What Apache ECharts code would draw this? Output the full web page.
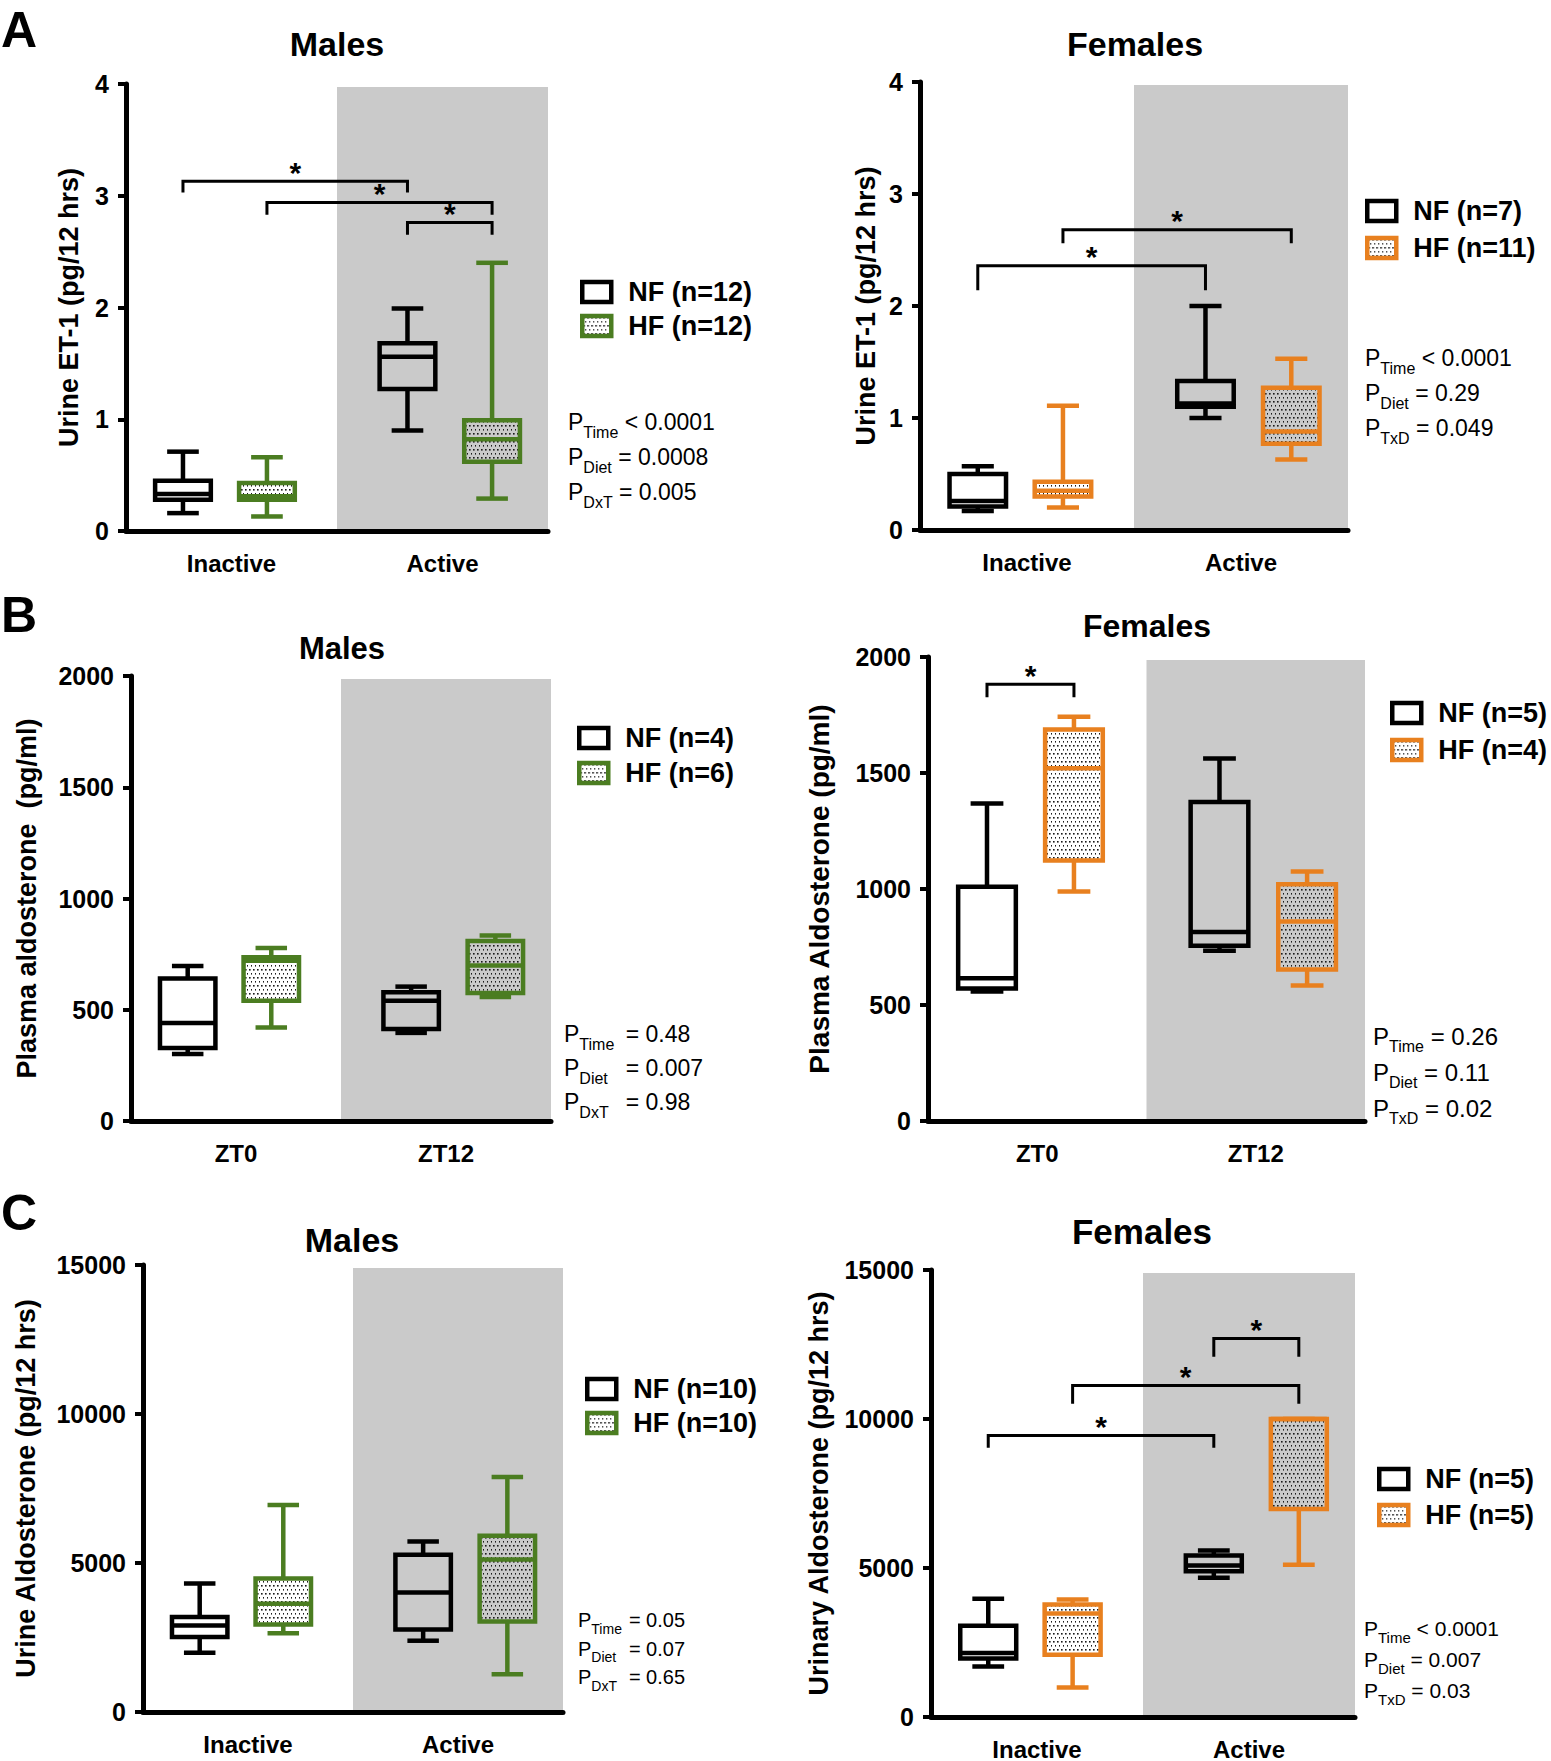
<!DOCTYPE html>
<html>
<head>
<meta charset="utf-8">
<script src="https://cdn.jsdelivr.net/npm/echarts@6/dist/echarts.min.js"></script>
<style>
html,body{margin:0;padding:0;background:#fff;}
#chart{width:1551px;height:1761px;}
</style>
</head>
<body>
<div id="chart"></div>
<script>
// ---------------- DATA ----------------
// categories
const catsPeriod = ['Inactive', 'Active'];
const catsZT = ['ZT0', 'ZT12'];
// y-axis tick values
const ticksET1 = [0, 1, 2, 3, 4];
const ticksPlasma = [0, 500, 1000, 1500, 2000];
const ticksUrine = [0, 5000, 10000, 15000];
// box values per category: [min, q1, median, q3, max]
// A: urine ET-1
const etMalesNF = [[0.16, 0.28, 0.33, 0.45, 0.71], [0.90, 1.27, 1.56, 1.68, 1.99]];
const etMalesHF = [[0.13, 0.28, 0.31, 0.43, 0.66], [0.29, 0.62, 0.82, 0.99, 2.40]];
const etFemalesNF = [[0.17, 0.21, 0.26, 0.50, 0.57], [1.00, 1.10, 1.13, 1.33, 2.00]];
const etFemalesHF = [[0.20, 0.30, 0.35, 0.43, 1.11], [0.63, 0.77, 0.88, 1.27, 1.53]];
// B: plasma aldosterone
const paMalesNF = [[301, 328, 440, 640, 697], [396, 414, 541, 579, 604]];
const paMalesHF = [[420, 541, 720, 736, 777], [557, 575, 699, 809, 834]];
const paFemalesNF = [[558, 571, 615, 1010, 1369], [734, 755, 815, 1375, 1562]];
const paFemalesHF = [[989, 1123, 1521, 1688, 1742], [584, 653, 860, 1021, 1075]];
// C: urine aldosterone
const uaMalesNF = [[1987, 2519, 2899, 3190, 4316], [2392, 2772, 4013, 5278, 5722]];
const uaMalesHF = [[2646, 2937, 3633, 4481, 6949], [1266, 3038, 5114, 5911, 7886]];
const uaFemalesNF = [[1693, 1959, 2150, 3058, 3968], [4675, 4890, 5080, 5421, 5586]];
const uaFemalesHF = [[986, 2085, 3476, 3779, 3943], [5107, 6979, 10000, 10000, 10000]];
// significance brackets: [fromCat, fromGroup(0=NF,1=HF), toCat, toGroup, level, dropEnd]
const etMalesSig = [[0, 0, 1, 0, 3.13, 3.03], [0, 1, 1, 1, 2.94, 2.83], [1, 0, 1, 1, 2.76, 2.65]];
const etFemalesSig = [[0, 0, 1, 0, 2.36, 2.14], [0, 1, 1, 1, 2.68, 2.56]];
const paMalesSig = [];
const paFemalesSig = [[0, 0, 0, 1, 1883, 1826]];
const uaMalesSig = [];
const uaFemalesSig = [[0, 0, 1, 0, 9443, 9039], [0, 1, 1, 1, 11120, 10515], [1, 0, 1, 1, 12700, 12090]];
// group legend labels
const etMalesGroups = ['NF (n=12)', 'HF (n=12)'];
const etFemalesGroups = ['NF (n=7)', 'HF (n=11)'];
const paMalesGroups = ['NF (n=4)', 'HF (n=6)'];
const paFemalesGroups = ['NF (n=5)', 'HF (n=4)'];
const uaMalesGroups = ['NF (n=10)', 'HF (n=10)'];
const uaFemalesGroups = ['NF (n=5)', 'HF (n=5)'];
// statistics text: [subscript, operator, value]
const etMalesP = [['Time', '<', '0.0001'], ['Diet', '=', '0.0008'], ['DxT', '=', '0.005']];
const etFemalesP = [['Time', '<', '0.0001'], ['Diet', '=', '0.29'], ['TxD', '=', '0.049']];
const paMalesP = [['Time', '=', '0.48'], ['Diet', '=', '0.007'], ['DxT', '=', '0.98']];
const paFemalesP = [['Time', '=', '0.26'], ['Diet', '=', '0.11'], ['TxD', '=', '0.02']];
const uaMalesP = [['Time', '=', '0.05'], ['Diet', '=', '0.07'], ['DxT', '=', '0.65']];
const uaFemalesP = [['Time', '<', '0.0001'], ['Diet', '=', '0.007'], ['TxD', '=', '0.03']];

// ---------------- STYLE / LAYOUT ----------------
const FONT = "'Liberation Sans', Arial, Helvetica, sans-serif";
const GREEN = '#4b7d21';
const ORANGE = '#e8801f';
const GRAY = '#cacaca';
const BOX_W = 0.264, CAP_W = 0.15;
const OFFS = [[-0.23, -0.166], [0.168, 0.235]]; // per group, per category, in band widths
const LW = 4.5;

const pc = document.createElement('canvas');
pc.width = 4; pc.height = 8;
const pg = pc.getContext('2d');
pg.fillStyle = '#1a1a1a';
pg.fillRect(1, 1, 1.6, 1.6);
pg.fillRect(3, 5, 1.6, 1.6);
const DOTS = { image: pc, repeat: 'repeat' };

const panels = [
  { grid: { left: 126, top: 84, width: 422, height: 447 }, cats: catsPeriod, ticks: ticksET1,
    yName: 'Urine ET-1 (pg/12 hrs)', nameGap: 44, nameSize: 27, color: GREEN,
    nf: etMalesNF, hf: etMalesHF, sig: etMalesSig, groups: etMalesGroups, p: etMalesP,
    title: { text: 'Males', x: 337, y: 44, size: 34 },
    legend: { left: 575, top: 273, gap: 6 },
    pv: { x: 568, y: 422, dy: 35, F: 23, f: 16, subW: null } },
  { grid: { left: 920, top: 82, width: 428, height: 448 }, cats: catsPeriod, ticks: ticksET1,
    yName: 'Urine ET-1 (pg/12 hrs)', nameGap: 41, nameSize: 27, color: ORANGE,
    nf: etFemalesNF, hf: etFemalesHF, sig: etFemalesSig, groups: etFemalesGroups, p: etFemalesP,
    title: { text: 'Females', x: 1135, y: 44, size: 34 },
    legend: { left: 1360, top: 192, gap: 9 },
    pv: { x: 1365, y: 358, dy: 35, F: 23, f: 16, subW: null } },
  { grid: { left: 131, top: 676, width: 420, height: 445 }, cats: catsZT, ticks: ticksPlasma,
    yName: 'Plasma aldosterone  (pg/ml)', nameGap: 91, nameSize: 27, color: GREEN,
    nf: paMalesNF, hf: paMalesHF, sig: paMalesSig, groups: paMalesGroups, p: paMalesP,
    title: { text: 'Males', x: 342, y: 648, size: 31 },
    legend: { left: 572, top: 719, gap: 7 },
    pv: { x: 564, y: 1034, dy: 34, F: 23, f: 16, subW: 40 } },
  { grid: { left: 928, top: 657, width: 437, height: 464 }, cats: catsZT, ticks: ticksPlasma,
    yName: 'Plasma Aldosterone (pg/ml)', nameGap: 95, nameSize: 28, color: ORANGE,
    nf: paFemalesNF, hf: paFemalesHF, sig: paFemalesSig, groups: paFemalesGroups, p: paFemalesP,
    title: { text: 'Females', x: 1147, y: 626, size: 32 },
    legend: { left: 1385, top: 694, gap: 9 },
    pv: { x: 1373, y: 1036, dy: 36, F: 24, f: 16, subW: null } },
  { grid: { left: 143, top: 1265, width: 420, height: 447 }, cats: catsPeriod, ticks: ticksUrine,
    yName: 'Urine Aldosterone (pg/12 hrs)', nameGap: 104, nameSize: 27, color: GREEN,
    nf: uaMalesNF, hf: uaMalesHF, sig: uaMalesSig, groups: uaMalesGroups, p: uaMalesP,
    title: { text: 'Males', x: 352, y: 1240, size: 34 },
    legend: { left: 580, top: 1370, gap: 6 },
    pv: { x: 578, y: 1620, dy: 28.5, F: 20, f: 14, subW: 32 } },
  { grid: { left: 931, top: 1270, width: 424, height: 448 }, cats: catsPeriod, ticks: ticksUrine,
    yName: 'Urinary Aldosterone (pg/12 hrs)', nameGap: 99, nameSize: 27, color: ORANGE,
    nf: uaFemalesNF, hf: uaFemalesHF, sig: uaFemalesSig, groups: uaFemalesGroups, p: uaFemalesP,
    title: { text: 'Females', x: 1142, y: 1231, size: 35 },
    legend: { left: 1372, top: 1460, gap: 8 },
    pv: { x: 1364, y: 1628, dy: 31, F: 21, f: 15, subW: null } }
];

const letters = [{ t: 'A', y: 30 }, { t: 'B', y: 615 }, { t: 'C', y: 1213 }];

// ---------------- RENDERERS ----------------
function bandRenderer(params, api) {
  const c = api.coord([api.value(0), 0]);
  const bw = api.size([1, 0])[0];
  const cs = params.coordSys;
  return { type: 'rect', shape: { x: c[0] - bw / 2, y: cs.y + 3, width: bw, height: c[1] - cs.y - 3 },
    style: { fill: GRAY } };
}

function boxRenderer(group, color, fill) {
  return function (params, api) {
    const cat = api.value(0);
    const c = api.coord([cat, 0]);
    const bw = api.size([1, 0])[0];
    const cx = c[0] + OFFS[group][cat] * bw;
    const w = BOX_W * bw, cw = CAP_W * bw;
    const y = [1, 2, 3, 4, 5].map(function (i) { return api.coord([cat, api.value(i)])[1]; });
    const ls = { stroke: color, lineWidth: LW, fill: null };
    return { type: 'group', children: [
      { type: 'line', shape: { x1: cx, y1: y[3], x2: cx, y2: y[4] }, style: ls },
      { type: 'line', shape: { x1: cx, y1: y[1], x2: cx, y2: y[0] }, style: ls },
      { type: 'line', shape: { x1: cx - cw / 2, y1: y[4], x2: cx + cw / 2, y2: y[4] }, style: ls },
      { type: 'line', shape: { x1: cx - cw / 2, y1: y[0], x2: cx + cw / 2, y2: y[0] }, style: ls },
      { type: 'rect', shape: { x: cx - w / 2, y: y[3], width: w, height: y[1] - y[3] },
        style: { fill: fill, stroke: color, lineWidth: LW } },
      { type: 'line', shape: { x1: cx - w / 2, y1: y[2], x2: cx + w / 2, y2: y[2] }, style: ls }
    ] };
  };
}

function sigRenderer(params, api) {
  const bw = api.size([1, 0])[0];
  const c1 = api.value(0), g1 = api.value(1), c2 = api.value(2), g2 = api.value(3);
  const x1 = api.coord([c1, 0])[0] + OFFS[g1][c1] * bw;
  const x2 = api.coord([c2, 0])[0] + OFFS[g2][c2] * bw;
  const yl = api.coord([c1, api.value(4)])[1];
  const yd = api.coord([c1, api.value(5)])[1];
  return { type: 'group', children: [
    { type: 'polyline', shape: { points: [[x1, yd], [x1, yl], [x2, yl], [x2, yd]] },
      style: { stroke: '#000', lineWidth: 3, fill: null } },
    { type: 'text', x: (x1 + x2) / 2, y: yl - 9,
      style: { text: '*', font: 'bold 30px ' + FONT, fill: '#000', textAlign: 'center', textVerticalAlign: 'middle' } }
  ] };
}

// ---------------- OPTION ----------------
const grid = [], xAxis = [], yAxis = [], series = [], legend = [], graphic = [];

panels.forEach(function (p, i) {
  grid.push(Object.assign({ containLabel: false }, p.grid));
  xAxis.push({
    type: 'category', gridIndex: i, data: p.cats, boundaryGap: true,
    axisLine: { lineStyle: { color: '#000', width: 5 } },
    axisTick: { alignWithLabel: true, length: 8, lineStyle: { color: '#000', width: 4 } },
    axisLabel: { color: '#000', fontWeight: 'bold', fontSize: 24, fontFamily: FONT, margin: 20 },
    splitLine: { show: false }
  });
  const t = p.ticks;
  yAxis.push({
    type: 'value', gridIndex: i, min: t[0], max: t[t.length - 1], interval: t[1] - t[0],
    axisLine: { show: true, lineStyle: { color: '#000', width: 5 } },
    axisTick: { show: true, length: 8, lineStyle: { color: '#000', width: 4 } },
    axisLabel: { color: '#000', fontWeight: 'bold', fontSize: 25, fontFamily: FONT, margin: 17,
      formatter: function (v) { return String(v); } },
    splitLine: { show: false },
    name: p.yName, nameLocation: 'middle', nameRotate: 90, nameGap: p.nameGap,
    nameTextStyle: { color: '#000', fontWeight: 'bold', fontSize: p.nameSize, fontFamily: FONT }
  });
  series.push({
    type: 'custom', name: 'band' + i, xAxisIndex: i, yAxisIndex: i, z: -1, silent: true,
    renderItem: bandRenderer, data: [[1]], encode: { x: 0 }
  });
  const nfData = p.nf.map(function (v, k) { return [k].concat(v); });
  const hfData = p.hf.map(function (v, k) { return [k].concat(v); });
  series.push({
    type: 'custom', name: p.groups[0], xAxisIndex: i, yAxisIndex: i, z: 3,
    itemStyle: { color: '#fff', borderColor: '#000', borderWidth: LW },
    renderItem: boxRenderer(0, '#000', 'none'), data: nfData, encode: { x: 0, y: [1, 2, 3, 4, 5] }
  });
  series.push({
    type: 'custom', name: p.groups[1], xAxisIndex: i, yAxisIndex: i, z: 3,
    itemStyle: { color: DOTS, borderColor: p.color, borderWidth: LW },
    renderItem: boxRenderer(1, p.color, DOTS), data: hfData, encode: { x: 0, y: [1, 2, 3, 4, 5] }
  });
  if (p.sig.length) {
    series.push({
      type: 'custom', name: 'sig' + i, xAxisIndex: i, yAxisIndex: i, z: 4, silent: true,
      renderItem: sigRenderer, data: p.sig, encode: { x: [0, 2], y: [4, 5] }
    });
  }
  legend.push({
    orient: 'vertical', left: p.legend.left, top: p.legend.top, itemGap: p.legend.gap,
    itemWidth: 29, itemHeight: 20, selectedMode: false, icon: 'rect',
    textStyle: { color: '#000', fontWeight: 'bold', fontSize: 27, fontFamily: FONT, lineHeight: 28, padding: [0, 0, 0, 12] },
    data: [
      { name: p.groups[0], icon: 'rect', itemStyle: { color: '#fff', borderColor: '#000', borderWidth: LW } },
      { name: p.groups[1], icon: 'rect', itemStyle: { color: DOTS, borderColor: p.color, borderWidth: LW } }
    ]
  });
  graphic.push({
    type: 'text', x: p.title.x, y: p.title.y,
    style: { text: p.title.text, font: 'bold ' + p.title.size + 'px ' + FONT, fill: '#000', textAlign: 'center', textVerticalAlign: 'middle' }
  });
  const pv = p.pv;
  const pad = Math.round(pv.F * 0.85);
  p.p.forEach(function (row, r) {
    const sub = { fontSize: pv.f, fontFamily: FONT, fill: '#000', padding: [pad, 0, 0, 0] };
    if (pv.subW) sub.width = pv.subW;
    graphic.push({
      type: 'text', x: pv.x, y: pv.y + r * pv.dy,
      style: {
        text: '{m|P}{s|' + row[0] + '}{m| ' + row[1] + ' ' + row[2] + '}',
        font: pv.F + 'px ' + FONT, fill: '#000', textAlign: 'left', textVerticalAlign: 'middle',
        rich: { m: { fontSize: pv.F, fontFamily: FONT, fill: '#000' }, s: sub }
      }
    });
  });
});

letters.forEach(function (l) {
  graphic.push({
    type: 'text', x: 1, y: l.y,
    style: { text: l.t, font: 'bold 50px ' + FONT, fill: '#000', textAlign: 'left', textVerticalAlign: 'middle' }
  });
});

const chart = echarts.init(document.getElementById('chart'), null, { renderer: 'svg', width: 1551, height: 1761 });
chart.setOption({
  animation: false,
  backgroundColor: '#fff',
  grid: grid, xAxis: xAxis, yAxis: yAxis, series: series, legend: legend, graphic: graphic
});
</script>
</body>
</html>
